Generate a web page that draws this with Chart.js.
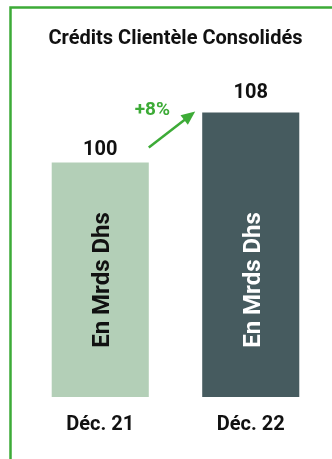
<!DOCTYPE html>
<html>
<head>
<meta charset="utf-8">
<script src="https://cdn.jsdelivr.net/npm/chart.js@4"></script>
<style>
  html, body { margin: 0; padding: 0; background: #fff; }
  #wrap { position: relative; width: 332px; height: 459px; }
</style>
</head>
<body>
<div id="wrap"><canvas id="credits"></canvas></div>
<script>
// data
const periods = ['Déc. 21', 'Déc. 22'];
const credits = [100, 108];
const unitLabel = 'En Mrds Dhs';
const chartTitle = 'Crédits Clientèle Consolidés';

const barColors = ['#b3cfb7', '#465b5f'];
const unitColors = ['#111111', '#ffffff'];
const valueOffsets = [13, 20];
const green = '#3dab37';
const font = 'Roboto, "DejaVu Sans", sans-serif';

// frame, title, value labels, unit text and growth arrow
const decorations = {
    id: 'decorations',
    beforeDraw(chart) {
        const ctx = chart.ctx;
        ctx.save();
        ctx.fillStyle = '#fff';
        ctx.fillRect(0, 0, chart.width, chart.height);
        ctx.strokeStyle = green;
        ctx.lineWidth = 2.5;
        ctx.beginPath();
        ctx.moveTo(10.5, chart.height);
        ctx.lineTo(10.5, 7.5);
        ctx.lineTo(chart.width, 7.5);
        ctx.stroke();
        ctx.restore();
    },
    afterDatasetsDraw(chart) {
        const ctx = chart.ctx;
        const bars = chart.getDatasetMeta(0).data;
        ctx.save();

        ctx.fillStyle = '#111';
        ctx.textAlign = 'center';
        ctx.textBaseline = 'middle';
        ctx.font = 'bold 20px ' + font;
        ctx.fillText(chartTitle, 175.5, 38.5);

        bars.forEach(function (bar, i) {
            ctx.fillStyle = '#111';
            ctx.font = 'bold 20px ' + font;
            ctx.fillText(credits[i], bar.x, bar.y - valueOffsets[i]);

            ctx.save();
            ctx.translate(bar.x + 3, 280);
            ctx.rotate(-Math.PI / 2);
            ctx.fillStyle = unitColors[i];
            ctx.font = 'bold 24px ' + font;
            ctx.fillText(unitLabel, 0, 0);
            ctx.restore();
        });

        // growth arrow between the two bars
        const a = bars[0], b = bars[1];
        const x0 = a.x + a.width / 2, y0 = a.y - 15;
        const x1 = b.x - b.width / 2 - 7, y1 = b.y - 1;
        const ang = Math.atan2(y1 - y0, x1 - x0);
        ctx.strokeStyle = green;
        ctx.fillStyle = green;
        ctx.lineWidth = 2.5;
        ctx.beginPath();
        ctx.moveTo(x0, y0);
        ctx.lineTo(x1 - 8 * Math.cos(ang), y1 - 8 * Math.sin(ang));
        ctx.stroke();
        ctx.beginPath();
        ctx.moveTo(x1, y1);
        ctx.lineTo(x1 - 14 * Math.cos(ang) + 6 * Math.sin(ang), y1 - 14 * Math.sin(ang) - 6 * Math.cos(ang));
        ctx.lineTo(x1 - 14 * Math.cos(ang) - 6 * Math.sin(ang), y1 - 14 * Math.sin(ang) + 6 * Math.cos(ang));
        ctx.closePath();
        ctx.fill();

        const growth = Math.round((credits[1] / credits[0] - 1) * 100);
        ctx.font = 'bold 19px ' + font;
        ctx.fillText('+' + growth + '%', a.x + a.width / 2 + 3.5, b.y - 2.5);

        ctx.restore();
    }
};

new Chart(document.getElementById('credits'), {
    type: 'bar',
    data: {
        labels: periods,
        datasets: [{
            data: credits,
            backgroundColor: barColors,
            borderWidth: 0,
            barPercentage: 0.645,
            categoryPercentage: 1
        }]
    },
    options: {
        responsive: true,
        maintainAspectRatio: false,
        animation: false,
        events: [],
        layout: { padding: { top: 60, left: 25, right: 6, bottom: 6 } },
        plugins: {
            legend: { display: false },
            tooltip: { enabled: false },
            title: { display: false }
        },
        scales: {
            x: {
                grid: { display: false, drawTicks: false },
                border: { display: false },
                ticks: {
                    padding: 16,
                    color: '#111',
                    font: { family: font, size: 20, weight: 'bold' }
                }
            },
            y: {
                display: false,
                min: 62.5,
                max: 116.4
            }
        }
    },
    plugins: [decorations]
});
</script>
</body>
</html>
